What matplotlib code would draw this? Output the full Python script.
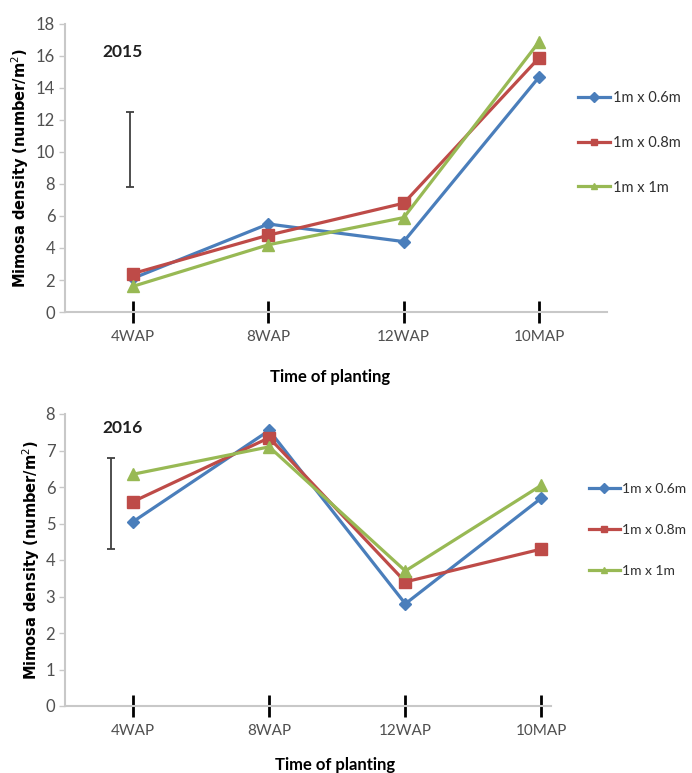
import numpy as np
import matplotlib
matplotlib.use("Agg")
import matplotlib.pyplot as plt

# data
periods = ["4WAP", "8WAP", "12WAP", "10MAP"]
spacings = ["1m x 0.6m", "1m x 0.8m", "1m x 1m"]

y2015_06 = [2.1, 5.5, 4.4, 14.7]
y2015_08 = [2.4, 4.8, 6.8, 15.9]
y2015_10 = [1.6, 4.2, 5.9, 16.9]

y2016_06 = [5.05, 7.55, 2.8, 5.7]
y2016_08 = [5.6, 7.35, 3.4, 4.3]
y2016_10 = [6.35, 7.1, 3.7, 6.05]

# LSD bars (centre, half length)
lsd2015 = (10.15, 2.35)
lsd2016 = (5.55, 1.25)

W, H = 692, 773
colors = ["#4a7ebb", "#be4b48", "#98b954"]
markers = ["D", "s", "^"]
msizes = [6.5, 8, 8.5]

plt.rcParams['font.family'] = ["Lato", "DejaVu Sans"]

fig = plt.figure(figsize=(W / 100, H / 100), dpi=100)


def px_axes(l, t, r, b):
    return fig.add_axes([l / W, 1 - b / H, (r - l) / W, (b - t) / H])


def draw_panel(ax, series, ymax, xmax, year, lsd, lsd_x, leg_xy, year_y, legsize):
    x = np.arange(len(periods))
    for vals, lab, c, m, ms in zip(series, spacings, colors, markers, msizes):
        ax.plot(x, vals, color=c, lw=2.3, marker=m, ms=ms, label=lab,
                markeredgecolor=c)
    ax.errorbar([lsd_x], [lsd[0]], yerr=[lsd[1]], color="#404040", lw=1.3,
                capsize=3, capthick=1.3)
    ax.set_xlim(-0.5, xmax)
    ax.set_ylim(0, ymax)
    ax.set_xticks(x)
    ax.set_xticklabels(periods)
    for s in ["top", "right"]:
        ax.spines[s].set_visible(False)
    for s in ["left", "bottom"]:
        ax.spines[s].set_color("#c8c8c8")
        ax.spines[s].set_linewidth(1.5)
    ax.tick_params(axis="x", direction="inout", length=16, width=2,
                   color="black", labelsize=11, labelcolor="#505050", pad=5)
    ax.tick_params(axis="y", direction="out", length=4, width=1,
                   color="#c8c8c8", labelsize=12, labelcolor="#505050", pad=3)
    ax.text(102 / W, 1 - year_y / H, year, transform=fig.transFigure,
            fontsize=12.5, fontweight="bold", color="#202020", va="center")
    leg = ax.legend(loc="upper left", bbox_to_anchor=leg_xy,
                    bbox_transform=fig.transFigure, frameon=False,
                    fontsize=legsize, labelspacing=2.1, handlelength=2.2,
                    handletextpad=0.2, borderpad=0)
    for h in leg.legend_handles:
        h.set_markersize(5)
    for t in leg.get_texts():
        t.set_color("#303030")


ax1 = px_axes(65, 24, 607, 312)
draw_panel(ax1, [y2015_06, y2015_08, y2015_10], 18, 3.5, "2015",
           lsd2015, -0.02, (571 / W, 1 - 84 / H), 52, 10.5)
ax1.set_yticks(np.arange(0, 19, 2))

ax2 = px_axes(65, 414, 551, 706)
draw_panel(ax2, [y2016_06, y2016_08, y2016_10], 8, 3.07, "2016",
           lsd2016, -0.16, (582 / W, 1 - 476 / H), 428, 10)
ax2.set_yticks(np.arange(0, 9, 1))

ylab = "Mimosa density (number/m$^2$)"
fig.text(20 / W, 1 - 168 / H, ylab, rotation=90, fontsize=10.5,
         fontweight="bold", family="DejaVu Sans", ha="center", va="center")
fig.text(31 / W, 1 - 560 / H, ylab, rotation=90, fontsize=10.5,
         fontweight="bold", family="DejaVu Sans", ha="center", va="center")
fig.text(330 / W, 1 - 377 / H, "Time of planting", fontsize=12,
         fontweight="bold", ha="center", va="center")
fig.text(335 / W, 1 - 765 / H, "Time of planting", fontsize=12,
         fontweight="bold", ha="center", va="center")

fig.savefig("out.png", dpi=100)
